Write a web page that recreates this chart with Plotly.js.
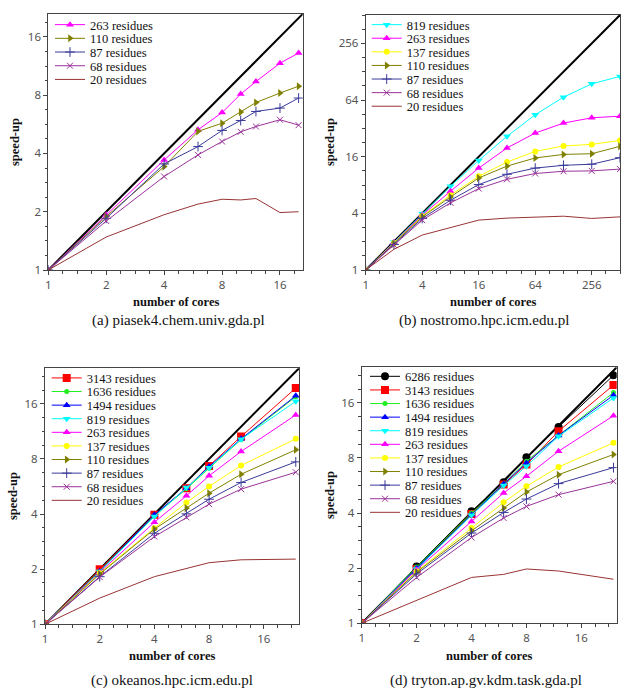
<!DOCTYPE html>
<html><head><meta charset="utf-8">
<script src="https://cdn.plot.ly/plotly-3.0.1.min.js"></script>
<style>html,body{margin:0;padding:0;background:#fff}#chart{width:630px;height:690px}</style>
</head><body><div id="chart"></div>
<script>
// ---------- DATA ----------
// (a) piasek4.chem.univ.gda.pl
const coresA = [1, 2, 4, 6, 8, 10, 12, 16, 20];
const a263 = [1, 1.93, 3.70, 5.30, 6.50, 8.10, 9.40, 11.7, 13.2];
const a110 = [1, 1.89, 3.42, 5.20, 5.73, 6.54, 7.33, 8.20, 8.90];
const a87  = [1, 1.85, 3.53, 4.34, 5.26, 5.92, 6.59, 6.86, 7.73];
const a68  = [1, 1.79, 3.04, 3.93, 4.61, 5.17, 5.51, 5.97, 5.60];
const a20  = [1, 1.48, 1.93, 2.19, 2.32, 2.30, 2.34, 1.98, 2.00];
// (b) nostromo.hpc.icm.edu.pl
const coresB = [1, 2, 4, 8, 16, 32, 64, 128, 256, 512];
const b819 = [1, 1.98, 3.98, 7.76, 14.6, 26.3, 44.6, 68.6, 95.0, 114];
const b263 = [1, 1.96, 3.83, 6.87, 12.1, 19.8, 28.5, 36.4, 41.4, 43.1];
const b137 = [1, 1.93, 3.73, 6.23, 9.90, 14.0, 18.2, 20.8, 21.6, 23.8];
const b110 = [1, 1.90, 3.67, 5.98, 9.50, 12.7, 15.5, 16.9, 17.2, 20.6];
const b87  = [1, 1.87, 3.53, 5.51, 8.08, 10.4, 12.1, 12.95, 13.3, 15.6];
const b68  = [1, 1.84, 3.39, 5.17, 7.33, 9.20, 10.6, 11.2, 11.3, 11.8];
const b20  = [1, 1.66, 2.35, 2.81, 3.39, 3.56, 3.67, 3.73, 3.53, 3.67];
// (c) okeanos.hpc.icm.edu.pl
const coresC = [1, 2, 4, 6, 8, 12, 24];
const c3143 = [1, 2.00, 3.96, 5.53, 7.33, 10.6, 19.5];
const c1636 = [1, 1.95, 3.91, 5.49, 7.12, 10.2, 17.5];
const c1494 = [1, 1.94, 3.96, 5.53, 7.27, 10.3, 17.7];
const c819  = [1, 1.94, 3.88, 5.59, 7.17, 10.25, 16.5];
const c263  = [1, 1.92, 3.61, 5.03, 6.47, 8.78, 13.9];
const c137  = [1, 1.90, 3.35, 4.62, 5.66, 7.36, 10.3];
const c110  = [1, 1.88, 3.31, 4.31, 5.20, 6.60, 8.97];
const c87   = [1, 1.82, 3.14, 4.01, 4.82, 5.95, 7.71];
const c68   = [1, 1.81, 3.01, 3.84, 4.53, 5.47, 6.77];
const c20   = [1, 1.39, 1.82, 2.01, 2.17, 2.25, 2.27];
// (d) tryton.ap.gv.kdm.task.gda.pl
const coresD = [1, 2, 4, 6, 8, 12, 24];
const d6286 = [1, 2.04, 4.09, 5.89, 8.07, 11.8, 22.6];
const d3143 = [1, 1.98, 3.95, 5.72, 7.36, 11.2, 20.0];
const d1636 = [1, 2.03, 4.00, 5.77, 7.67, 10.6, 18.2];
const d1494 = [1, 2.00, 3.91, 5.77, 7.50, 10.6, 17.6];
const d819  = [1, 1.98, 3.89, 5.65, 7.20, 10.5, 17.0];
const d263  = [1, 1.96, 3.60, 5.15, 6.35, 8.70, 13.6];
const d137  = [1, 1.92, 3.31, 4.58, 5.60, 7.14, 9.67];
const d110  = [1, 1.90, 3.20, 4.26, 5.21, 6.48, 8.35];
const d87   = [1, 1.86, 3.11, 4.03, 4.77, 5.79, 7.08];
const d68   = [1, 1.78, 2.94, 3.76, 4.35, 5.04, 5.96];
const d20   = [1, 1.33, 1.78, 1.85, 1.98, 1.93, 1.74];

const ticksSmall = [1, 2, 4, 8, 16];
const ticksBig = [1, 4, 16, 64, 256];
const captions = ['(a) piasek4.chem.univ.gda.pl', '(b) nostromo.hpc.icm.edu.pl',
                  '(c) okeanos.hpc.icm.edu.pl', '(d) tryton.ap.gv.kdm.task.gda.pl'];
const xTitle = 'number of cores';
const yTitle = 'speed-up';

// ---------- STYLES ----------
const sty = {
  '6286': {color: '#000000', symbol: 'circle', size: 8},
  '3143': {color: '#ff0000', symbol: 'square', size: 8},
  '1636': {color: '#22ee22', symbol: 'circle', size: 5},
  '1494': {color: '#0000ff', symbol: 'triangle-up', size: 7},
  '819':  {color: '#00ffff', symbol: 'triangle-down', size: 7},
  '263':  {color: '#ff00ff', symbol: 'triangle-up', size: 7},
  '137':  {color: '#ffff00', symbol: 'circle', size: 6},
  '110':  {color: '#808000', symbol: 'triangle-right', size: 7},
  '87':   {color: '#3a3a99', symbol: 'cross-thin', size: 7},
  '68':   {color: '#993399', symbol: 'x-thin', size: 6},
  '20':   {color: '#993333', symbol: null}
};

const W = 630, H = 690;
const panels = [
  {x: coresA, series: [['263', a263], ['110', a110], ['87', a87], ['68', a68], ['20', a20]],
   px: [48.3, 302.7], py: [14, 270], max: 21, ticks: ticksSmall,
   leg: [55, 25, 13.7], xt: [175.5, 302], yt: [15, 142], cap: [178, 320]},
  {x: coresB, series: [['819', b819], ['263', b263], ['137', b137], ['110', b110], ['87', b87], ['68', b68], ['20', b20]],
   px: [365.7, 620], py: [15, 270], max: 512, ticks: ticksBig,
   leg: [371.7, 25, 13.6], xt: [493, 302], yt: [330, 142], cap: [484, 320]},
  {x: coresC, series: [['3143', c3143], ['1636', c1636], ['1494', c1494], ['819', c819], ['263', c263], ['137', c137], ['110', c110], ['87', c87], ['68', c68], ['20', c20]],
   px: [45, 299], py: [368.3, 624.3], max: 25, ticks: ticksSmall,
   leg: [51.7, 378.3, 13.6], xt: [172, 656], yt: [13, 496], cap: [172, 680]},
  {x: coresD, series: [['6286', d6286], ['3143', d3143], ['1636', d1636], ['1494', d1494], ['819', d819], ['263', d263], ['137', d137], ['110', d110], ['87', d87], ['68', d68], ['20', d20]],
   px: [361.7, 616.7], py: [367.3, 623.3], max: 25, ticks: ticksSmall,
   leg: [370, 376.7, 13.6], xt: [489, 656], yt: [330, 495], cap: [486, 680]}
];

const traces = [];
const layout = {
  width: W, height: H, margin: {l: 0, r: 0, t: 0, b: 0},
  paper_bgcolor: '#fff', plot_bgcolor: '#fff', showlegend: true,
  annotations: []
};
let legN = 1;
const SERIF = 'Liberation Serif';
const tickFont = {family: 'Noto Sans', size: 11.5, color: '#555'};
const serifBold = {family: SERIF, size: 12.5, color: '#111', weight: 'bold'};

panels.forEach((p, i) => {
  const sfx = i === 0 ? '' : String(i + 1);
  const xa = 'x' + sfx, ya = 'y' + sfx;
  const lmax = Math.log10(p.max);
  // minor ticks: 3 per major interval, even in log space
  const minor = [];
  for (let k = 0; k < p.ticks.length; k++) {
    const t0 = p.ticks[k], t1 = t0 * (p.ticks[1] / p.ticks[0]);
    for (let m = 1; m <= 3; m++) {
      const v = t0 * Math.pow(t1 / t0, m / 4);
      if (v <= p.max) minor.push(v);
    }
  }
  const axBase = {
    type: 'log', range: [0, lmax], showgrid: false, zeroline: false,
    showline: true, mirror: true, linecolor: '#444', linewidth: 1,
    ticks: 'outside', ticklen: 4, tickcolor: '#444', tickwidth: 1,
    tickmode: 'array', tickvals: p.ticks, ticktext: p.ticks.map(String),
    tickfont: tickFont, fixedrange: true,
    minor: {tickmode: 'array', tickvals: minor, ticks: 'outside', ticklen: 2.5, tickcolor: '#444', showgrid: false}
  };
  layout['xaxis' + sfx] = Object.assign({}, axBase, {
    domain: [p.px[0] / W, p.px[1] / W], anchor: ya
  });
  layout['yaxis' + sfx] = Object.assign({}, axBase, {
    domain: [1 - p.py[1] / H, 1 - p.py[0] / H], anchor: xa
  });
  // ideal speed-up line
  traces.push({x: [1, p.max], y: [1, p.max], xaxis: xa, yaxis: ya, mode: 'lines',
    line: {color: '#000', width: 2}, showlegend: false, hoverinfo: 'skip'});
  // series
  p.series.forEach((s, j) => {
    const st = sty[s[0]];
    const lid = legN === 1 ? 'legend' : 'legend' + legN;
    const tr = {
      x: p.x, y: s[1], xaxis: xa, yaxis: ya, name: s[0] + ' residues',
      legend: lid, line: {color: st.color, width: 1},
      mode: st.symbol ? 'lines+markers' : 'lines'
    };
    if (st.symbol) {
      tr.marker = {symbol: st.symbol, size: st.size, color: st.color,
        line: {color: st.color, width: (st.symbol.indexOf('thin') >= 0) ? 1 : 0}};
    }
    traces.push(tr);
    layout[lid] = {
      x: (p.leg[0] - 5) / W, y: 1 - (p.leg[1] + j * p.leg[2]) / H,
      xanchor: 'left', yanchor: 'middle', bgcolor: 'rgba(0,0,0,0)', borderwidth: 0,
      itemwidth: 30,
      font: {family: SERIF, size: 12.5, color: '#111'}
    };
    legN++;
  });
  // texts
  layout.annotations.push({text: xTitle, xref: 'paper', yref: 'paper', showarrow: false,
    x: p.xt[0] / W, y: 1 - p.xt[1] / H, xanchor: 'center', yanchor: 'middle', font: serifBold});
  layout.annotations.push({text: yTitle, xref: 'paper', yref: 'paper', showarrow: false, textangle: -90,
    x: p.yt[0] / W, y: 1 - p.yt[1] / H, xanchor: 'center', yanchor: 'middle', font: serifBold});
  layout.annotations.push({text: captions[i], xref: 'paper', yref: 'paper', showarrow: false,
    x: p.cap[0] / W, y: 1 - p.cap[1] / H, xanchor: 'center', yanchor: 'middle',
    font: {family: SERIF, size: 15, color: '#111'}});
});

Plotly.newPlot('chart', traces, layout, {displayModeBar: false, staticPlot: true});
</script>
</body></html>
